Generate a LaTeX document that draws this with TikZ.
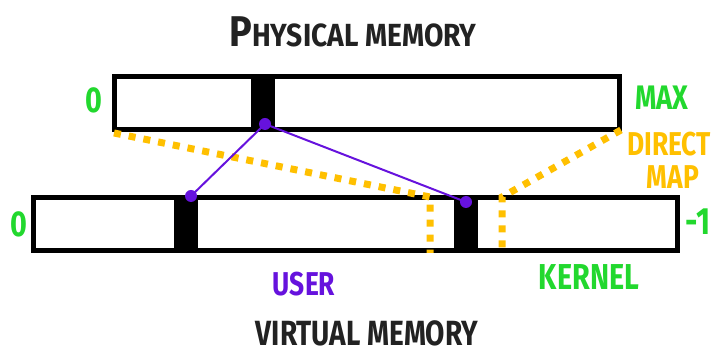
\documentclass[tikz,border=0pt]{standalone}
\usepackage{fontspec}
\usepackage{graphicx}
\setmainfont{Fira Sans}
\definecolor{mgreen}{HTML}{22D82E}
\definecolor{myellow}{HTML}{FFC000}
\definecolor{mpurple}{HTML}{6612DD}
\definecolor{mtext}{HTML}{222222}
\newcommand\nar[1]{\scalebox{0.8}[1]{#1}}
\tikzset{
  membox/.style={draw=black, fill=white, line width=5pt, inner sep=0pt, minimum height=53pt},
  blockbox/.style={fill=black, inner sep=0pt, minimum width=24pt, minimum height=58pt},
  mapline/.style={myellow, line width=7pt, dash pattern=on 7pt off 8pt},
  ptrline/.style={mpurple, line width=2pt},
  ptrdot/.style={circle, fill=mpurple, inner sep=0pt, minimum size=12pt},
  lbl/.style={inner sep=0pt, font=\bfseries}
}
\begin{document}
\begin{tikzpicture}[x=1pt,y=-1pt]
\useasboundingbox (0,0) rectangle (718,352);
\fill[white] (0,0) rectangle (718,352);
% boxes
\node[membox, minimum width=505pt] (phys) at (367,103) {};
\node[membox, minimum width=644pt] (virt) at (355.5,224) {};
\node[blockbox] (pb) at (263,103) {};
\node[blockbox] (vb1) at (186,224) {};
\node[blockbox] (vb2) at (466,224) {};
% direct map lines
\coordinate (pl) at (114,133);
\coordinate (pr) at (621,130);
\coordinate (dl) at (430,197);
\coordinate (dlb) at (430,253);
\coordinate (dr) at (502,197);
\coordinate (drb) at (502,253);
\draw[mapline] (pl) -- (dl) -- (dlb);
\draw[mapline] (pr) -- (dr) -- (drb);
% pointers
\node[ptrdot] (d1) at (265,124) {};
\node[ptrdot] (d2) at (191,196) {};
\node[ptrdot] (d3) at (466,202) {};
\draw[ptrline] (d1.center) -- (d2.center);
\draw[ptrline] (d1.center) -- (d3.center);
% labels
\node[lbl, text=mtext] (t1) at (353,32) {\scalebox{0.88}[1]{{\fontsize{43}{43}\selectfont P}{\fontsize{32}{32}\selectfont HYSICAL MEMORY}}};
\node[lbl, text=mtext] (t2) at (367,333) {\fontsize{35}{35}\selectfont\nar{VIRTUAL MEMORY}};
\node[lbl, text=mgreen] (z1) at (94,100) {\fontsize{36}{36}\selectfont\nar{0}};
\node[lbl, text=mgreen] (z2) at (19,224) {\fontsize{36}{36}\selectfont\nar{0}};
\node[lbl, text=mgreen] (mx) at (662,98) {\fontsize{34}{34}\selectfont\nar{MAX}};
\node[lbl, text=mgreen] (m1) at (698,222) {\fontsize{38}{38}\selectfont\nar{-1}};
\node[lbl, text=myellow, anchor=west] (dm1) at (627,144) {\fontsize{33}{33}\selectfont\nar{DIRECT}};
\node[lbl, text=myellow] (dm2) at (673,177) {\fontsize{33}{33}\selectfont\nar{MAP}};
\node[lbl, text=mpurple] (us) at (304,284) {\fontsize{33}{33}\selectfont\nar{USER}};
\node[lbl, text=mgreen] (kn) at (589,277) {\fontsize{36}{36}\selectfont\nar{KERNEL}};
\end{tikzpicture}
\end{document}
